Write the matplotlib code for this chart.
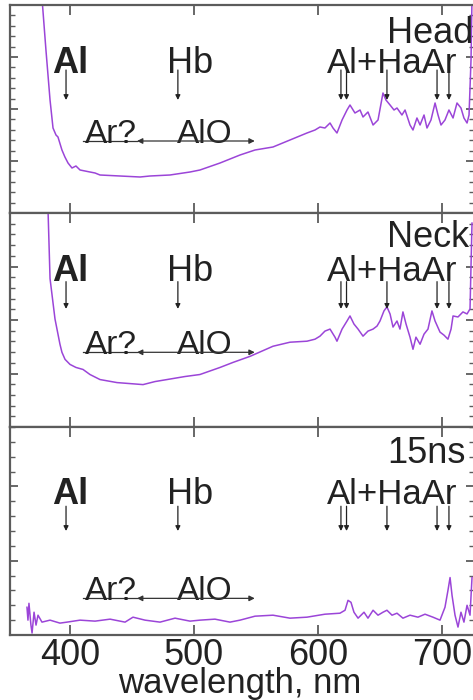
import matplotlib
matplotlib.use("Agg")
import matplotlib.pyplot as plt
from matplotlib.ticker import MultipleLocator

plt.rcParams["font.family"] = ["Liberation Sans", "DejaVu Sans"]

# ── Spectra (wavelength nm, intensity arb. units) ────────────────────────────

head_wl = [377.4, 380.6, 383.9, 386.3, 388.7, 390.3, 393.5, 395.9, 398.4, 401.6,
           404.8, 408.1, 416.1, 420.2, 424.2, 440.3, 456.5, 464.5, 480.6, 496.8,
           504.8, 521.0, 537.1, 549.2, 563.7, 577.4, 591.1, 597.6, 601.6, 605.6,
           609.7, 612.1, 615.3, 619.4, 623.4, 625.8, 629.8, 633.9, 636.3, 640.3,
           644.4, 648.4, 652.4, 654.8, 658.1, 661.3, 663.7, 667.7, 670.2, 674.2,
           676.6, 679.8, 682.3, 685.5, 687.9, 691.1, 694.4, 696.8, 699.2, 702.4,
           705.6, 708.9, 712.1, 715.3, 717.7, 720.2, 721.8, 723.4, 724.2]
head_int = [215, 163, 113, 85, 78, 76, 63, 56, 50, 45,
            47, 43, 41, 40, 38, 37, 36, 37, 38, 41,
            43, 50, 58, 63, 66, 73, 80, 83, 86, 85,
            90, 85, 80, 93, 103, 108, 100, 103, 96, 101,
            88, 93, 120, 113, 108, 103, 105, 98, 103, 88,
            83, 95, 88, 98, 85, 93, 110, 98, 88, 93,
            103, 95, 110, 105, 95, 90, 98, 153, 215]

neck_wl = [382.3, 383.9, 387.9, 391.9, 393.5, 396.0, 400.0, 404.8, 410.5, 416.1,
           424.2, 437.9, 448.4, 458.9, 468.5, 478.2, 492.7, 504.8, 521.0, 531.5,
           545.2, 563.7, 577.4, 591.1, 597.6, 601.6, 605.6, 609.7, 613.7, 615.3,
           619.4, 623.4, 625.8, 629.0, 632.3, 636.3, 640.3, 644.4, 647.6, 650.0,
           653.2, 655.6, 658.1, 660.5, 663.7, 666.1, 668.5, 671.0, 674.2, 676.6,
           679.0, 682.3, 685.5, 688.7, 691.9, 694.4, 698.4, 701.6, 704.8, 707.3,
           708.9, 712.9, 716.9, 720.2, 722.6, 724.2]
neck_int = [214, 147, 107, 82, 74, 67, 62, 59, 57, 52,
            47, 44, 43, 42, 45, 47, 50, 52, 59, 64,
            70, 80, 84, 85, 87, 90, 95, 97, 89, 85,
            97, 105, 110, 102, 97, 90, 95, 97, 100, 105,
            115, 119, 112, 99, 105, 97, 114, 102, 89, 77,
            89, 82, 92, 97, 115, 105, 94, 91, 87, 97,
            110, 109, 114, 112, 117, 202]

ns15_wl = [365.3, 366.1, 366.9, 368.5, 369.4, 371.0, 372.6, 374.2, 377.4, 383.9,
           391.9, 397.6, 408.1, 420.2, 432.3, 444.4, 450.8, 460.5, 472.6, 484.7,
           496.8, 504.8, 516.9, 529.0, 537.1, 549.2, 563.7, 577.4, 591.1, 605.6,
           617.7, 621.8, 624.2, 626.6, 629.0, 632.3, 637.1, 640.3, 644.4, 648.4,
           652.4, 655.6, 659.7, 663.7, 668.5, 674.2, 680.6, 686.3, 692.7, 698.4,
           702.4, 704.8, 706.5, 708.1, 710.5, 712.9, 715.3, 717.7, 720.2, 722.6,
           724.2]
ns15_int = [28, 15, 32, 10, 2, 23, 10, 20, 13, 15,
            12, 13, 15, 14, 16, 13, 18, 15, 13, 17,
            14, 15, 16, 13, 15, 19, 20, 17, 18, 21,
            22, 25, 35, 33, 23, 17, 23, 17, 25, 20,
            23, 25, 20, 22, 17, 20, 18, 21, 18, 15,
            28, 45, 58, 40, 20, 8, 23, 13, 30, 20,
            58]

# ── Line markers ─────────────────────────────────────────────────────────────

line_wl = [396.8, 487.0, 618.5, 623.0, 655.6, 696.0, 705.6]
panel_names = ["Head", "Neck", "15ns"]
# per panel: y-limit, text baseline, arrow top, arrow bottom, name baseline, band baseline
ymax = [208, 212, 210]
label_y = [140, 145, 132]
arrow_top = [143, 144, 130]
arrow_bot = [113, 117, 105]
name_y = [170, 178, 174]
band_y = [72, 74, 37]

PURPLE = "#9b45d8"
GREY = "#5c5c5c"
INK = "#222222"

fig = plt.figure(figsize=(4.73, 7.0), dpi=100)

W, H = 473, 700
left_px, right_px = 10, 474
bounds = [(5, 213), (213, 427), (427, 635)]
xmin = 400 + (left_px - 70) / 1.24
xmax = 400 + (right_px - 70) / 1.24

spectra = [(head_wl, head_int), (neck_wl, neck_int), (ns15_wl, ns15_int)]

for i, ((top, bot), (wl, inten)) in enumerate(zip(bounds, spectra)):
    ax = fig.add_axes([left_px / W, 1 - bot / H, (right_px - left_px) / W, (bot - top) / H])
    ax.plot(wl, inten, color=PURPLE, lw=1.1)
    ax.set_xlim(xmin, xmax)
    ax.set_ylim(0, ymax[i])

    for s in ax.spines.values():
        s.set_color(GREY)
        s.set_linewidth(1.6)

    ax.xaxis.set_major_locator(MultipleLocator(100))
    ax.tick_params(axis="x", which="major", direction="in", top=True, bottom=True,
                   length=7, width=1.3, color=GREY, labelsize=26, pad=2,
                   labelcolor=INK, labelbottom=(i == 2))
    step = ymax[i] / 20 if i < 2 else 15
    ax.yaxis.set_minor_locator(MultipleLocator(step))
    ax.yaxis.set_major_locator(MultipleLocator(step * 5))
    ax.tick_params(axis="y", which="both", direction="in", left=True, right=True,
                   labelleft=False, color=GREY)
    ax.tick_params(axis="y", which="major", length=6, width=1.3)
    ax.tick_params(axis="y", which="minor", length=3.5, width=1.0)

    # vertical line markers
    for w in line_wl:
        ax.annotate("", xy=(w, arrow_bot[i]), xytext=(w, arrow_top[i]),
                    arrowprops=dict(arrowstyle="-|>", lw=0.9, color=INK,
                                    mutation_scale=7, shrinkA=0, shrinkB=0))

    ax.text(385.5, label_y[i], "Al", fontsize=26, fontweight="bold",
            va="baseline", ha="left", color=INK)
    ax.text(478.2, label_y[i], "Hb", fontsize=26, va="baseline", ha="left", color=INK)
    ax.text(607.3, label_y[i], "Al+HaAr", fontsize=25, va="baseline", ha="left",
            color=INK)
    ax.text(655.6, name_y[i], panel_names[i], fontsize=26, va="baseline", ha="left",
            color=INK, clip_on=False)

    # Ar? / AlO band
    ax.text(412.1, band_y[i] - 2, "Ar?", fontsize=24, va="baseline", ha="left",
            color=INK)
    ax.text(486.3, band_y[i] - 2, "AlO", fontsize=24, va="baseline", ha="left",
            color=INK)
    ax.plot([410.5, 454], [band_y[i], band_y[i]], color="#333333", lw=0.9)
    ax.annotate("", xy=(454, band_y[i]), xytext=(549, band_y[i]),
                arrowprops=dict(arrowstyle="<|-|>", lw=0.9, color="#333333",
                                mutation_scale=8, shrinkA=0, shrinkB=0))

fig.text(240 / W, 1 - 693 / H, "wavelength, nm", fontsize=25, ha="center",
         va="baseline", color=INK)

fig.savefig("out.png", dpi=100)
